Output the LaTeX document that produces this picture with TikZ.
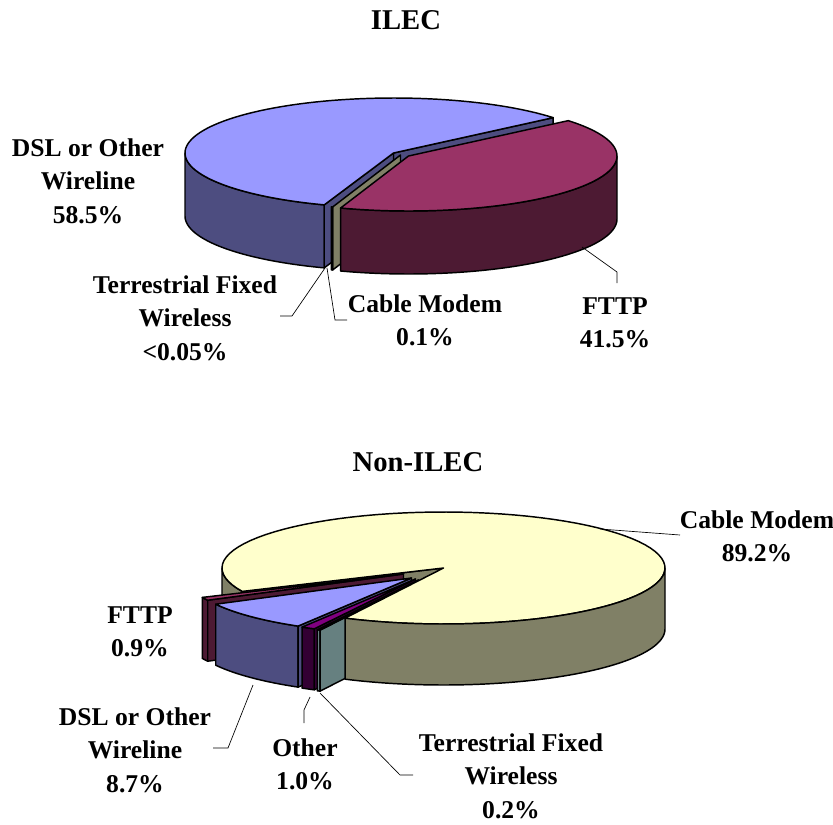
\documentclass[tikz,border=0pt]{standalone}
\usepackage{fontspec}
\setmainfont{Liberation Serif}
\definecolor{btop}{HTML}{9999FF}
\definecolor{bside}{HTML}{4D4D80}
\definecolor{ftop}{HTML}{993366}
\definecolor{fside}{HTML}{4D1A33}
\definecolor{ytop}{HTML}{FFFFCC}
\definecolor{yside}{HTML}{808066}
\definecolor{ctop}{HTML}{CCFFFF}
\definecolor{cside}{HTML}{668080}
\definecolor{otop}{HTML}{800080}
\definecolor{oside}{HTML}{330033}
\tikzset{
 pieline/.style={draw=black,line width=1.1pt,line join=round},
 lbl/.style={font=\fontsize{19.2}{25}\selectfont\bfseries, align=center, inner sep=0pt},
 ttl/.style={font=\fontsize{21.5}{26}\selectfont\bfseries, inner sep=0pt},
 leader/.style={draw=black,line width=0.5pt}
}
% cx cy rx ry t1 t2 fill
\newcommand{\pietop}[7]{\filldraw[pieline,fill=#7] (#1,#2) -- plot[domain=#5:#6,samples=90] ({#1+#3*cos(\x)},{#2-#4*sin(\x)}) -- cycle;}
% cx cy rx ry t1 t2 depth fill
\newcommand{\pieside}[8]{\filldraw[pieline,fill=#8] plot[domain=#5:#6,samples=60] ({#1+#3*cos(\x)},{#2-#4*sin(\x)}) -- plot[domain=#6:#5,samples=60] ({#1+#3*cos(\x)},{#2+#7-#4*sin(\x)}) -- cycle;}
% cx cy rx ry t depth fill
\newcommand{\pieface}[7]{\filldraw[pieline,fill=#7] (#1,#2) -- ({#1+#3*cos(#5)},{#2-#4*sin(#5)}) -- ++(0,#6) -- (#1,{#2+#6}) -- cycle;}
\begin{document}
\begin{tikzpicture}[x=0.75pt,y=-0.75pt]
\useasboundingbox (0,0) rectangle (833,825);

% ================= ILEC =================
\node[ttl] (tilec) at (406,20) {ILEC};
% DSL (blue)
\pieside{393.5}{153}{208.5}{55}{180}{250.6}{63}{bside}
\pieface{393.5}{153}{208.5}{55}{40}{63}{bside}
\pieface{393.5}{153}{208.5}{55}{250.6}{63}{bside}
\pietop{393.5}{153}{208.5}{55}{40}{250.6}{btop}
% Cable modem (olive sliver)
\pieface{400.5}{155}{208.5}{55}{251}{63}{yside}
\pieside{400.5}{155}{208.5}{55}{250.6}{251}{63}{yside}
% FTTP
\pieside{408.5}{156}{208.5}{55}{251}{360}{63}{fside}
\pietop{408.5}{156}{208.5}{55}{251}{400}{ftop}

\node[lbl] (ldsl) at (88,181) {DSL or Other\\Wireline\\58.5\%};
\node[lbl] (lterr) at (185,318) {Terrestrial Fixed\\Wireless\\<0.05\%};
\node[lbl] (lcab) at (425,320) {Cable Modem\\0.1\%};
\node[lbl] (lfttp) at (615,323) {FTTP\\41.5\%};

\coordinate (a1) at (280,316); \coordinate (a2) at (292,316); \coordinate (a3) at (325,268);
\draw[leader] (a1) -- (a2) -- (a3);
\coordinate (b1) at (347,320); \coordinate (b2) at (335,320); \coordinate (b3) at (327,268);
\draw[leader] (b1) -- (b2) -- (b3);
\coordinate (c1) at (582,247); \coordinate (c2) at (617,272); \coordinate (c3) at (617,283);
\draw[leader] (c1) -- (c2) -- (c3);

% ================= Non-ILEC =================
\node[ttl] (tnon) at (418,462) {Non-ILEC};
% yellow back-left side and end face
\pieside{443.5}{568}{221.5}{56}{180}{204.7}{61}{yside}
\pieface{443.5}{568}{221.5}{56}{204.7}{61}{yside}
% FTTP
\pieside{403.5}{574}{221.5}{56}{204.7}{207.9}{61}{fside}
\pieface{403.5}{574}{221.5}{56}{207.9}{61}{fside}
\pietop{403.5}{574}{221.5}{56}{204.7}{207.9}{ftop}
% DSL
\pieside{411.5}{578}{221.5}{56}{207.9}{239.2}{61}{bside}
\pieface{411.5}{578}{221.5}{56}{239.2}{61}{bside}
\pietop{411.5}{578}{221.5}{56}{207.9}{239.2}{btop}
% Other
\pieside{415.5}{579}{221.5}{56}{239.2}{242.8}{61}{oside}
\pieface{415.5}{579}{221.5}{56}{242.8}{61}{oside}
\pietop{415.5}{579}{221.5}{56}{239.2}{242.8}{otop}
% Terrestrial
\pieside{418.5}{580}{221.5}{56}{242.8}{243.6}{61}{cside}
\pieface{418.5}{580}{221.5}{56}{243.6}{61}{cside}
\pietop{418.5}{580}{221.5}{56}{242.8}{243.6}{ctop}
% yellow top and front side
\pietop{443.5}{568}{221.5}{56}{243.6}{564.7}{ytop}
\pieside{443.5}{568}{221.5}{56}{243.6}{360}{61}{yside}

\node[lbl] (ncab) at (757,536) {Cable Modem\\89.2\%};
\node[lbl] (nfttp) at (140,632) {FTTP\\0.9\%};
\node[lbl] (ndsl) at (135,750) {DSL or Other\\Wireline\\8.7\%};
\node[lbl] (noth) at (305,764) {Other\\1.0\%};
\node[lbl] (nterr) at (511,776) {Terrestrial Fixed\\Wireless\\0.2\%};

\coordinate (d1) at (600,529); \coordinate (d2) at (680,535);
\draw[leader] (d1) -- (d2);
\coordinate (e1) at (253,685); \coordinate (e2) at (228,748); \coordinate (e3) at (213,748);
\draw[leader] (e1) -- (e2) -- (e3);
\coordinate (f1) at (310,697); \coordinate (f2) at (304,710); \coordinate (f3) at (304,723);
\draw[leader] (f1) -- (f2) -- (f3);
\coordinate (g1) at (320,693); \coordinate (g2) at (400,775); \coordinate (g3) at (413,775);
\draw[leader] (g1) -- (g2) -- (g3);
\end{tikzpicture}
\end{document}
